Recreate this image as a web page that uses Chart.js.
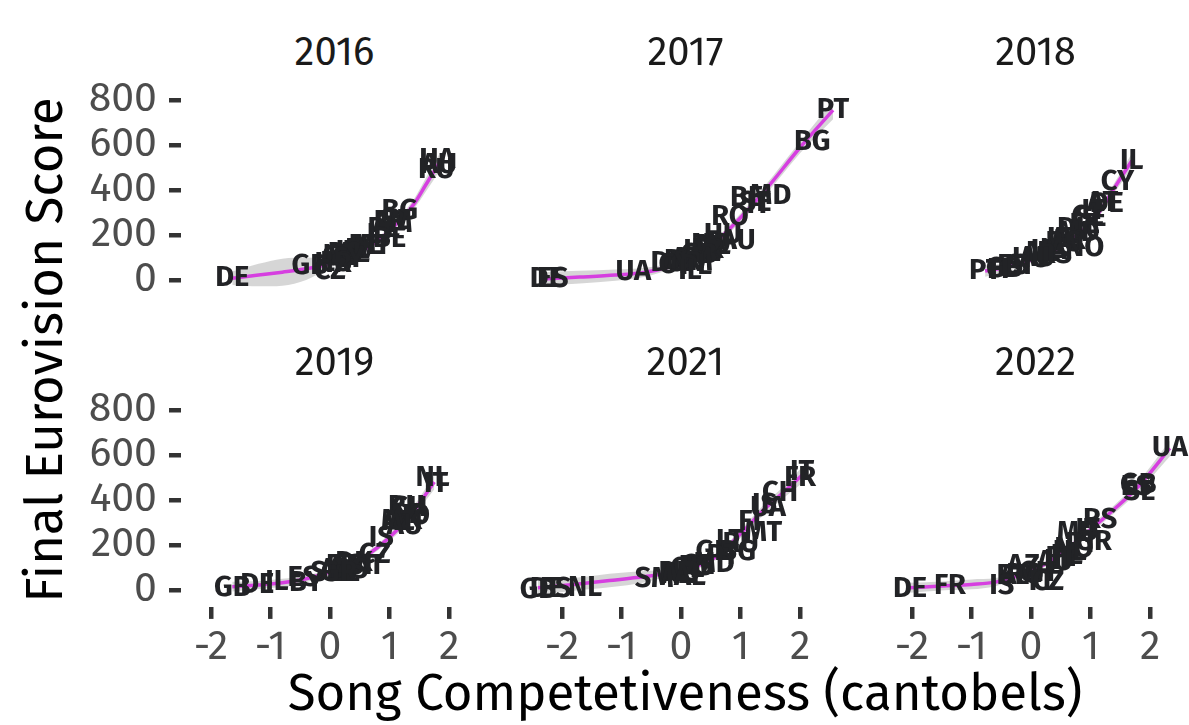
<!DOCTYPE html>
<html>
<head>
<meta charset="utf-8">
<script src="https://cdn.jsdelivr.net/npm/chart.js@4.4.1/dist/chart.umd.min.js"></script>
<style>
  body { margin: 0; background: #fff; }
  #wrap { position: relative; width: 1189px; height: 725px; background: #fff; overflow: hidden;
          font-family: "Fira Sans", "Open Sans", sans-serif; }
  #wrap canvas { position: absolute; left: 0; top: 0; }
  .facet { position: absolute; width: 200px; text-align: center; font-size: 40px; color: #1a1a1a; line-height: 1; }
  .axtitle { position: absolute; font-size: 51px; color: #000; white-space: nowrap; line-height: 1; }
</style>
</head>
<body>
<div id="wrap">
  <div class="axtitle" id="ytitle" style="left:45px;top:350px;transform:translate(-50%,-50%) rotate(-90deg);">Final Eurovision Score</div>
  <div class="axtitle" id="xtitle" style="left:685px;top:693px;transform:translate(-50%,-50%);">Song Competetiveness (cantobels)</div>
</div>
<script>
// facettes et graduations
const years = ['2016', '2017', '2018', '2019', '2021', '2022'];
const xTicks = [-2, -1, 0, 1, 2];
const yTicks = [0, 200, 400, 600, 800];

// 2016
const codes2016 = ['UA','AU','RU','BG','SE','FR','AM','PL','LT','BE','NL','MT','AT','IL','LV','IT','AZ','RS','HU','GE','CY','ES','HR','GB','CZ','DE'];
const comp2016 = [1.8,1.83,1.78,1.17,1.1,1.0,1.05,0.9,0.85,1.0,0.6,0.7,0.55,0.45,0.5,0.3,0.4,0.25,0.2,0.15,0.3,0.1,0.05,-0.34,0.0,-1.64];
const score2016 = [534,511,491,307,261,257,249,229,200,181,153,153,151,135,132,124,117,115,108,104,96,77,73,62,41,11];
const smoothX2016 = [-1.64,-1.2,-0.8,-0.4,0,0.4,0.8,1.1,1.4,1.6,1.83];
const smoothY2016 = [8,22,35,50,72,110,175,245,335,420,520];
const smoothSe2016 = [30,50,60,50,18,12,14,18,22,30,38];

// 2017
const codes2017 = ['PT','BG','MD','BE','SE','IT','RO','HU','AU','NO','NL','FR','HR','AZ','GB','AT','BY','AM','GR','DK','CY','PL','IL','UA','DE','ES'];
const comp2017 = [2.55,2.2,1.5,1.1,1.25,1.3,0.82,0.7,0.95,0.5,0.55,0.45,0.35,0.4,0.3,0.1,0.0,0.2,0.05,-0.2,-0.1,0.25,0.15,-0.8,-2.25,-2.15];
const score2017 = [758,615,374,363,344,334,282,200,173,158,150,135,128,120,111,93,83,79,77,77,68,64,39,36,6,5];
const smoothX2017 = [-2.25,-1.7,-1.1,-0.6,-0.2,0.2,0.5,0.9,1.4,2.0,2.55];
const smoothY2017 = [6,13,22,35,58,95,150,250,395,590,755];
const smoothSe2017 = [30,28,25,20,14,12,14,18,22,26,40];

// 2018
const codes2018 = ['IL','CY','AT','DE','IT','CZ','SE','EE','DK','MD','AL','LT','FR','BG','NO','IE','UA','NL','RS','AU','HU','SI','ES','GB','FI','PT'];
const comp2018 = [1.69,1.45,1.2,1.27,1.05,0.95,1.0,0.9,0.75,0.8,0.6,0.5,0.65,0.55,0.9,0.35,0.3,0.2,0.4,0.1,0.0,-0.2,-0.3,-0.45,-0.55,-0.77];
const score2018 = [529,436,342,340,308,281,274,245,226,209,184,181,173,166,144,136,130,121,113,99,93,64,61,48,46,39];
const smoothX2018 = [-0.77,-0.4,0,0.4,0.8,1.1,1.4,1.69];
const smoothY2018 = [40,58,88,135,205,285,410,530];
const smoothSe2018 = [25,18,12,10,14,18,22,32];

// 2019
const codes2019 = ['NL','IT','RU','CH','SE','NO','MK','AZ','AU','IS','CZ','DK','CY','MT','SI','FR','AL','RS','SM','EE','GR','ES','IL','BY','DE','GB'];
const comp2019 = [1.72,1.78,1.28,1.33,1.3,1.35,1.2,1.15,1.25,0.86,0.75,0.4,0.3,0.6,0.5,0.2,0.1,0.35,0.0,0.25,0.15,-0.45,-0.89,-0.4,-1.22,-1.64];
const score2019 = [498,472,370,364,334,331,305,302,284,232,157,120,109,107,105,105,90,89,77,76,74,54,35,31,24,11];
const smoothX2019 = [-1.64,-1.2,-0.8,-0.4,0,0.4,0.8,1.1,1.4,1.75];
const smoothY2019 = [15,22,32,50,80,120,190,260,350,480];
const smoothSe2019 = [22,18,18,15,12,12,14,18,22,32];

// 2021
const codes2021 = ['IT','FR','CH','IS','UA','FI','MT','LT','RU','GR','BG','PT','MD','SE','RS','CY','IL','NO','BE','AZ','AL','SM','NL','ES','DE','GB'];
const comp2021 = [2.03,2.0,1.66,1.4,1.46,1.15,1.38,0.82,1.0,0.55,0.95,0.7,0.55,0.3,0.25,0.1,0.2,0.0,-0.1,-0.05,0.15,-0.45,-1.61,-2.1,-2.25,-2.4];
const score2021 = [524,499,432,378,364,301,255,220,204,170,170,153,115,109,102,94,93,75,74,65,57,50,11,6,3,0];
const smoothX2021 = [-2.4,-1.8,-1.2,-0.6,-0.2,0.2,0.6,1.0,1.4,1.7,2.03];
const smoothY2021 = [10,25,42,60,75,100,150,250,360,430,510];
const smoothSe2021 = [30,28,30,25,14,12,14,18,22,26,36];

// 2022
const codes2022 = ['UA','GB','ES','SE','RS','IT','MD','GR','PT','NO','NL','PL','EE','LT','AU','AZ','CH','RO','BE','AM','FI','CZ','IS','FR','DE'];
const comp2022 = [2.33,1.8,1.77,1.82,1.16,0.95,0.78,1.05,0.85,0.72,0.65,0.6,0.5,0.45,0.4,-0.13,0.1,-0.1,-0.3,-0.2,0.15,0.29,-0.49,-1.36,-2.03];
const score2022 = [631,466,459,438,312,268,253,215,207,182,171,151,141,128,125,106,78,65,64,61,38,38,20,17,6];
const smoothX2022 = [-2.03,-1.5,-1.0,-0.6,-0.2,0.2,0.6,1.0,1.4,1.8,2.33];
const smoothY2022 = [10,18,25,35,65,110,180,270,360,460,630];
const smoothSe2022 = [22,20,22,18,14,12,12,16,18,22,35];

const facets = [
  { codes: codes2016, comp: comp2016, score: score2016, sx: smoothX2016, sy: smoothY2016, se: smoothSe2016 },
  { codes: codes2017, comp: comp2017, score: score2017, sx: smoothX2017, sy: smoothY2017, se: smoothSe2017 },
  { codes: codes2018, comp: comp2018, score: score2018, sx: smoothX2018, sy: smoothY2018, se: smoothSe2018 },
  { codes: codes2019, comp: comp2019, score: score2019, sx: smoothX2019, sy: smoothY2019, se: smoothSe2019 },
  { codes: codes2021, comp: comp2021, score: score2021, sx: smoothX2021, sy: smoothY2021, se: smoothSe2021 },
  { codes: codes2022, comp: comp2022, score: score2022, sx: smoothX2022, sy: smoothY2022, se: smoothSe2022 }
];

// mise en page des panneaux
const W = 1189, H = 725;
const colLeft = [181, 532, 882];
const panelW = 307;
const rowTop = [95.5, 405.5];
const panelH = 201.4;
const yAxisW = 100, xAxisH = 60;
const FONT = '"Fira Sans", "Open Sans", sans-serif';

function labelPlugin(f) {
  return {
    id: 'countryLabels',
    afterDatasetsDraw(chart) {
      const { ctx, scales } = chart;
      ctx.save();
      ctx.font = 'bold 29px ' + FONT;
      ctx.fillStyle = '#222326';
      ctx.textAlign = 'center';
      ctx.textBaseline = 'middle';
      f.codes.forEach((c, i) => {
        ctx.fillText(c, scales.x.getPixelForValue(f.comp[i]), scales.y.getPixelForValue(f.score[i]));
      });
      ctx.restore();
    }
  };
}

const wrap = document.getElementById('wrap');

facets.forEach((f, i) => {
  const col = i % 3, row = Math.floor(i / 3);
  const showY = col === 0, showX = row === 1;

  // titre de facette
  const t = document.createElement('div');
  t.className = 'facet';
  t.textContent = years[i];
  t.style.left = (colLeft[col] + panelW / 2 - 100) + 'px';
  t.style.top = (rowTop[row] - 64) + 'px';
  wrap.appendChild(t);

  const canvas = document.createElement('canvas');
  canvas.width = W; canvas.height = H;
  wrap.appendChild(canvas);

  const line = f.sx.map((x, k) => ({ x, y: f.sy[k] }));
  const lower = f.sx.map((x, k) => ({ x, y: f.sy[k] - f.se[k] }));
  const upper = f.sx.map((x, k) => ({ x, y: f.sy[k] + f.se[k] }));

  new Chart(canvas.getContext('2d'), {
    type: 'line',
    data: {
      datasets: [
        { data: line, borderColor: '#d63fe0', borderWidth: 3.5, pointRadius: 0, fill: false, cubicInterpolationMode: 'monotone' },
        { data: lower, borderWidth: 0, borderColor: 'rgba(0,0,0,0)', pointRadius: 0, fill: false, cubicInterpolationMode: 'monotone' },
        { data: upper, borderWidth: 0, borderColor: 'rgba(0,0,0,0)', pointRadius: 0, fill: '-1',
          backgroundColor: 'rgba(153,153,153,0.4)', cubicInterpolationMode: 'monotone' }
      ]
    },
    options: {
      responsive: false,
      animation: false,
      devicePixelRatio: 1,
      layout: {
        padding: {
          left: colLeft[col] - (showY ? yAxisW : 0),
          right: W - (colLeft[col] + panelW),
          top: rowTop[row],
          bottom: H - (rowTop[row] + panelH) - (showX ? xAxisH : 0)
        }
      },
      plugins: { legend: { display: false }, tooltip: { enabled: false } },
      scales: {
        x: {
          type: 'linear', min: -2.5, max: 2.65, display: showX,
          afterBuildTicks: s => { s.ticks = xTicks.map(v => ({ value: v })); },
          afterFit: s => { s.height = showX ? xAxisH : 0; },
          grid: { drawOnChartArea: false, drawTicks: true, tickLength: 12, lineWidth: 4.5, color: '#333333' },
          border: { display: false },
          ticks: { color: '#4d4d4d', font: { family: FONT, size: 41 }, padding: 4, maxRotation: 0, autoSkip: false }
        },
        y: {
          type: 'linear', min: -75, max: 820, display: showY,
          afterBuildTicks: s => { s.ticks = yTicks.map(v => ({ value: v })); },
          afterFit: s => { s.width = showY ? yAxisW : 0; },
          grid: { drawOnChartArea: false, drawTicks: true, tickLength: 12, lineWidth: 4.5, color: '#333333' },
          border: { display: false },
          ticks: { color: '#4d4d4d', font: { family: FONT, size: 41 }, padding: 12, autoSkip: false }
        }
      }
    },
    plugins: [labelPlugin(f)]
  });
});
</script>
</body>
</html>
